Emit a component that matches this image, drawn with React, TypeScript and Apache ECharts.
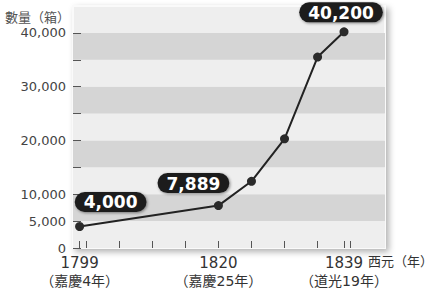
import React, { useEffect, useRef } from "react";
import * as echarts from "echarts";

const years = [1799, 1820, 1825, 1830, 1835, 1839];
const chests = [4000, 7889, 12400, 20300, 35500, 40200];
const labelledYears = [1799, 1820, 1839];
const eraNames: Record<number, string> = { 1799: "（嘉慶4年）", 1820: "（嘉慶25年）", 1839: "（道光19年）" };
const yLabelValues = [0, 5000, 10000, 20000, 30000, 40000];
const yTickValues = [0, 5000, 10000, 15000, 20000, 25000, 30000, 35000, 40000];
const xTickValues = [1799, 1800, 1805, 1810, 1815, 1820, 1825, 1830, 1835, 1839, 1840];
const labelOffsets: Record<number, number[]> = { 1799: [31, -5], 1820: [-25, -3], 1839: [-3, 0] };
const xUnit = "西元（年）";
const yUnit = "數量（箱）";

const FONT = '"DejaVu Sans", "Noto Sans CJK JP", sans-serif';

export default function App() {
  const ref = useRef<HTMLDivElement>(null);
  useEffect(() => {
    if (!ref.current) return;
    const chart = echarts.init(ref.current, null, { renderer: "svg" });
    const data = years.map((y, i) => {
      const item: any = { value: [y, chests[i]] };
      if (labelOffsets[y]) {
        item.label = {
          show: true,
          position: "top",
          distance: 5,
          offset: labelOffsets[y],
          formatter: (p: any) => p.value[1].toLocaleString("en-US"),
          color: "#fff",
          fontFamily: FONT,
          fontWeight: "bold",
          fontSize: 17,
          lineHeight: 17,
          backgroundColor: "#1f1f1f",
          borderRadius: 10,
          padding: [2, 9, 1, 9],
          shadowColor: "rgba(0,0,0,0.45)",
          shadowBlur: 3,
          shadowOffsetX: 1,
          shadowOffsetY: 1,
        };
      }
      return item;
    });
    chart.setOption({
      animation: false,
      backgroundColor: "#fff",
      grid: {
        left: 73,
        right: 54,
        top: 6,
        bottom: 42,
        containLabel: false,
        outerBoundsMode: "none",
        show: true,
        backgroundColor: "#eeeeee",
        borderColor: "#fafafa",
        borderWidth: 2,
        shadowColor: "rgba(0,0,0,0.3)",
        shadowBlur: 6,
        shadowOffsetX: 3,
        shadowOffsetY: 3,
      },
      graphic: [
        {
          type: "text",
          left: 368,
          top: 255,
          style: { text: xUnit, fill: "#333", font: `13px ${FONT}` },
        },
      ],
      xAxis: {
        type: "value",
        min: 1798,
        max: 1845.2,
        axisLine: { show: false },
        splitLine: { show: false },
        axisTick: {
          show: true,
          inside: true,
          length: 7,
          customValues: xTickValues,
          lineStyle: { color: "#555", width: 1 },
        },
        axisLabel: {
          customValues: labelledYears,
          margin: 6,
          formatter: (v: number) => `{a|${v}}\n{b|${eraNames[v] || ""}}`,
          rich: {
            a: { fontFamily: FONT, fontSize: 15, color: "#333", lineHeight: 18 },
            b: { fontFamily: FONT, fontSize: 14, color: "#333", lineHeight: 18 },
          },
        },
      },
      yAxis: {
        type: "value",
        min: 0,
        max: 45000,
        interval: 5000,
        name: yUnit,
        nameLocation: "end",
        nameGap: -11,
        nameTextStyle: {
          color: "#555",
          fontFamily: FONT,
          fontSize: 13,
          align: "right",
          verticalAlign: "middle",
          padding: [0, 3, 0, 0],
        },
        axisLine: { show: false },
        splitLine: { show: false },
        splitArea: { show: true, areaStyle: { color: ["#eeeeee", "#d5d5d5"] } },
        axisTick: {
          show: true,
          inside: true,
          length: 8,
          customValues: yTickValues,
          lineStyle: { color: "#555", width: 1 },
        },
        axisLabel: {
          customValues: yLabelValues,
          margin: 7,
          color: "#444",
          fontFamily: FONT,
          fontSize: 13,
          formatter: (v: number) => v.toLocaleString("en-US"),
        },
      },
      series: [
        {
          type: "line",
          data,
          symbol: "circle",
          symbolSize: 9,
          itemStyle: { color: "#2a2a2a" },
          lineStyle: { color: "#222", width: 2 },
          label: { show: false },
        },
      ],
    });
    return () => chart.dispose();
  }, []);
  return <div ref={ref} style={{ width: 439, height: 290, position: "absolute", left: 0, top: 0 }} />;
}
